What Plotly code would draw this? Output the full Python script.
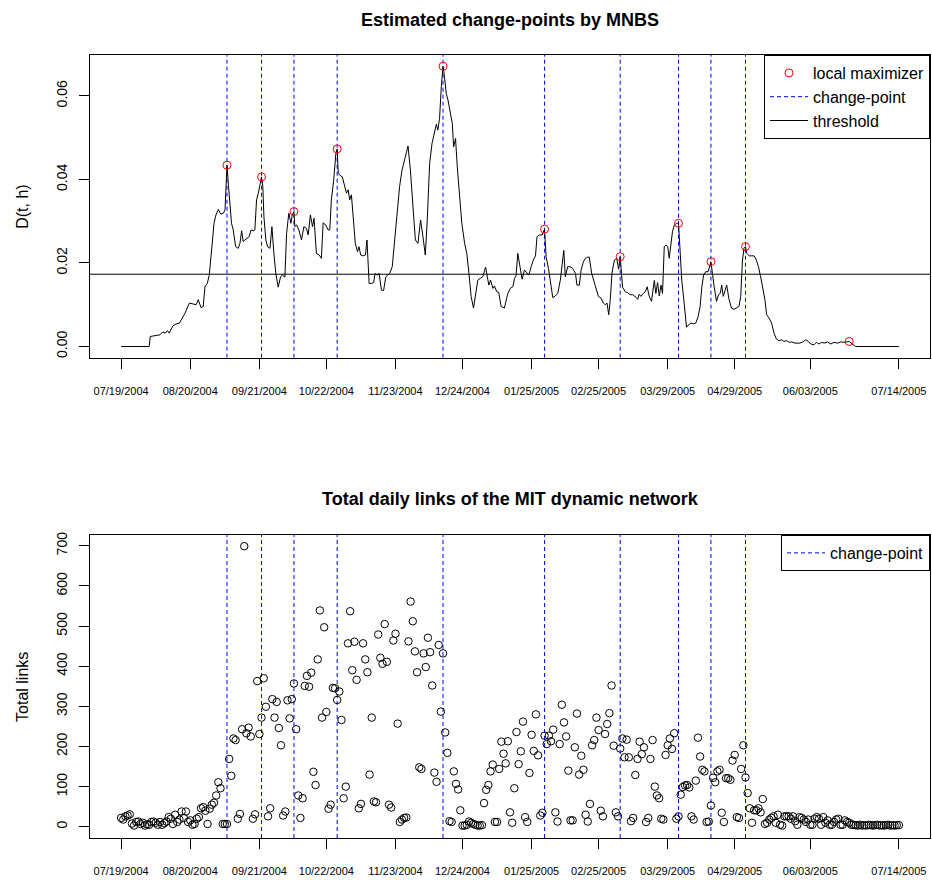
import pandas as pd
import plotly.graph_objects as go

START = pd.Timestamp("2004-07-19")

# ---- D(t, h) statistic (day offset from 07/19/2004, value) ----
d_days = [0, 13, 13.5, 18, 19.3, 20.5, 21.4, 22.3, 23.9, 25.4, 27, 28, 29.6, 31.6, 33.4, 34.7, 35.7, 37, 38,
          38.8, 39.9, 40.8, 41.9, 43, 43.9, 45, 46.1, 47.3, 48.1, 49, 49.7, 51.1, 51.9, 53, 54.2, 55, 55.8,
          56.5, 57.3, 58.1, 59.3, 60.1, 61.2, 61.9, 62.7, 63.5, 65, 65.6, 66.1, 67, 67.8, 68.9, 69.8, 70.7,
          71.6, 72.7, 73.8, 74.7, 75.8, 76.6, 77.6, 78.6, 79.2, 80, 80.4, 81.2, 82.3, 83.5, 84.6, 85.8, 86.6,
          87.6, 88.6, 89.3, 90.4, 91.7, 92.7, 93.5, 94.7, 95.8, 96.6, 97.3, 98.4, 99.4, 100, 100.5, 101.2,
          102.4, 103.5, 104.3, 105.1, 105.8, 106.6, 107.4, 108.4, 109.4, 110.1, 110.9, 112, 113.1, 113.8,
          114.8, 115.8, 116.9, 117.5, 118.5, 119.4, 120.5, 121.5, 122.5, 123.2, 124.3, 125.5, 126.6, 127.7,
          128.9, 130, 131.2, 132.8, 133.9, 135.1, 136.2, 137.4, 138.6, 139.7, 140.8, 141.7, 142.8, 143.9,
          145.1, 145.9, 146.6, 147.4, 148.2, 149, 149.5, 150.5, 151.3, 152.3, 153.3, 153.9, 154.8, 155.6,
          156.7, 157.7, 159, 160, 161, 162, 163.1, 164, 165.1, 166.2, 167.4, 168.7, 169.4, 170.2, 171,
          172.1, 172.8, 173.9, 174.8, 175.9, 177.4, 179, 180.1, 181.3, 182.1, 182.8, 183.6, 184.7, 185.6,
          186.7, 187.8, 188.7, 189.8, 190.8, 191.8, 192.5, 193.6, 194.9, 196, 196.7, 197.8, 198.7, 199.8,
          201, 202.1, 203.3, 204.1, 204.9, 205.6, 206.7, 207.8, 209, 210.3, 211, 212.1, 212.9, 214, 214.9,
          216, 216.7, 217.8, 218.7, 219.8, 220.9, 222.1, 223.2, 224.1, 224.9, 225.7, 226.4, 227.2, 228.3,
          229.4, 230.3, 231, 231.5, 232.1, 233.4, 234.4, 235.5, 236.8, 238.3, 239.1, 239.8, 240.6, 241.7,
          242.6, 243.5, 244.4, 245.5, 246.3, 246.8, 247.5, 248.3, 249.1, 249.9, 250.6, 251.4, 252.2, 253,
          253.7, 254.5, 255.2, 256.1, 257.1, 258, 258.6, 259.5, 260.6, 261.7, 262.6, 263.7, 264.9, 266,
          267.1, 268, 268.8, 269.6, 270.6, 271.7, 273, 273.5, 274.5, 275.6, 276.5, 277.3, 278, 278.7,
          279.6, 280.3, 281.4, 282.5, 283.7, 284.8, 286, 286.8, 287.6, 288.3, 289, 289.6, 290.7, 291.9,
          293, 294, 295, 296, 297.1, 298, 298.8, 299.9, 301.1, 302.2, 303.3, 304.5, 305.8, 306.8, 308.1,
          309.2, 310.4, 311.9, 313.8, 315.3, 316.9, 318.1, 319.2, 320.7, 321.8, 323, 324.3, 325.4, 326.9,
          328.4, 330, 331.5, 333.1, 334.6, 337, 338.1, 340, 360]
d_values = [0, 0, 0.0024, 0.0028, 0.0035, 0.0032, 0.0038, 0.0032, 0.0049, 0.0054, 0.0056, 0.0064, 0.0080,
            0.0104, 0.0102, 0.0100, 0.0112, 0.0093, 0.0096, 0.0143, 0.0151, 0.0171, 0.0231, 0.0295, 0.0315,
            0.0328, 0.0317, 0.0319, 0.0327, 0.0434, 0.0385, 0.0295, 0.0279, 0.0239, 0.0235, 0.0247, 0.0277,
            0.0251, 0.0255, 0.0259, 0.0263, 0.0279, 0.0277, 0.0279, 0.0351, 0.0367, 0.0406, 0.0383, 0.0311,
            0.0255, 0.0239, 0.0235, 0.0287, 0.0223, 0.0175, 0.0142, 0.0167, 0.0171, 0.0166, 0.0271, 0.0319,
            0.0295, 0.0315, 0.0323, 0.0287, 0.0291, 0.0279, 0.0255, 0.0287, 0.0283, 0.0267, 0.0315, 0.0287,
            0.0307, 0.0223, 0.0219, 0.0211, 0.0296, 0.0291, 0.0279, 0.0279, 0.0351, 0.0398, 0.0462, 0.0473,
            0.0414, 0.0410, 0.0406, 0.0383, 0.0367, 0.0375, 0.0351, 0.0363, 0.0303, 0.0247, 0.0227, 0.0239,
            0.0219, 0.0217, 0.0219, 0.0255, 0.0151, 0.0151, 0.0153, 0.0175, 0.0171, 0.0175, 0.0135, 0.0134,
            0.0167, 0.0171, 0.0175, 0.0191, 0.0255, 0.0319, 0.0383, 0.0422, 0.0446, 0.0480, 0.0422, 0.0335,
            0.0255, 0.0247, 0.0303, 0.0263, 0.0219, 0.0303, 0.0438, 0.0486, 0.0510, 0.0532, 0.0518, 0.0546,
            0.0622, 0.0671, 0.0653, 0.0606, 0.0590, 0.0562, 0.0534, 0.0478, 0.0498, 0.0430, 0.0367, 0.0295,
            0.0247, 0.0223, 0.0175, 0.0120, 0.0092, 0.0127, 0.0159, 0.0163, 0.0167, 0.0190, 0.0167, 0.0147,
            0.0159, 0.0139, 0.0145, 0.0131, 0.0129, 0.0096, 0.0092, 0.0127, 0.0139, 0.0143, 0.0163, 0.0169,
            0.0223, 0.0191, 0.0161, 0.0183, 0.0175, 0.0171, 0.0191, 0.0207, 0.0217, 0.0263, 0.0267, 0.0267,
            0.0281, 0.0215, 0.0187, 0.0159, 0.0117, 0.0121, 0.0127, 0.0159, 0.0191, 0.0230, 0.0167, 0.0191,
            0.0191, 0.0187, 0.0175, 0.0147, 0.0147, 0.0183, 0.0203, 0.0211, 0.0214, 0.0214, 0.0175, 0.0159,
            0.0139, 0.0120, 0.0116, 0.0104, 0.0100, 0.0104, 0.0076, 0.0112, 0.0175, 0.0207, 0.0211, 0.0185,
            0.0215, 0.0179, 0.0142, 0.0131, 0.0129, 0.0124, 0.0124, 0.0118, 0.0113, 0.0125, 0.0120, 0.0127,
            0.0131, 0.0143, 0.0121, 0.0108, 0.0139, 0.0158, 0.0127, 0.0153, 0.0121, 0.0147, 0.0127, 0.0239,
            0.0243, 0.0239, 0.0211, 0.0239, 0.0275, 0.0291, 0.0295, 0.0295, 0.0239, 0.0159, 0.0104, 0.0046,
            0.0052, 0.0056, 0.0054, 0.0056, 0.0072, 0.0096, 0.0143, 0.0171, 0.0179, 0.0179, 0.0203, 0.0179,
            0.0143, 0.0108, 0.0124, 0.0127, 0.0147, 0.0120, 0.0135, 0.0147, 0.0112, 0.0092, 0.0089, 0.0092,
            0.0096, 0.0120, 0.0207, 0.0235, 0.0239, 0.0223, 0.0217, 0.0217, 0.0217, 0.0207, 0.0191, 0.0167,
            0.0139, 0.0112, 0.0076, 0.0068, 0.0056, 0.0032, 0.0018, 0.0014, 0.0016, 0.0012, 0.0014, 0.0010,
            0.0011, 0.0008, 0.0008, 0.0010, 0.0016, 0.0012, 0.0006, 0.0004, 0.0010, 0.0006, 0.0010, 0.0008,
            0.0011, 0.0006, 0.0010, 0.0008, 0.0011, 0.0010, 0.0012, 0.0008, 0, 0]

maximizer_days = [49, 65, 80, 100, 149, 196, 231, 258, 273, 289, 337]
changepoint_days = [49, 65, 80, 100, 149, 196, 231, 258, 273, 289]
threshold = 0.0173

# ---- total daily links, day 0 .. 360 ----
total_links = [
    22, 18, 26, 28, 31, 8, 3, 12, 13, 7,
    10, 3, 6, 5, 12, 13, 10, 5, 12, 5,
    9, 13, 24, 20, 7, 30, 12, 18, 38, 22,
    38, 12, 16, 5, 7, 20, 24, 46, 49, 40,
    7, 45, 55, 60, 78, 111, 96, 7, 7, 7,
    169, 127, 220, 216, 20, 32, 243, 699, 233, 247,
    225, 20, 31, 363, 231, 272, 370, 299, 26, 46,
    318, 272, 311, 246, 203, 28, 38, 315, 270, 318,
    357, 243, 78, 22, 71, 351, 376, 349, 384, 137,
    104, 417, 539, 272, 497, 286, 45, 55, 346, 345,
    316, 337, 266, 71, 100, 457, 537, 390, 461, 366,
    46, 57, 457, 417, 385, 130, 272, 63, 61, 479,
    421, 406, 505, 411, 55, 48, 464, 481, 257, 12,
    18, 22, 23, 462, 561, 512, 437, 385, 148, 144,
    432, 398, 471, 435, 352, 135, 112, 453, 287, 432,
    235, 184, 14, 12, 138, 107, 93, 41, 3, 3,
    5, 13, 10, 7, 5, 3, 3, 4, 59, 92,
    104, 138, 155, 12, 12, 144, 212, 182, 158, 213,
    36, 10, 96, 236, 156, 188, 262, 24, 12, 134,
    229, 189, 280, 178, 28, 35, 227, 206, 227, 213,
    242, 36, 13, 206, 304, 260, 225, 140, 16, 16,
    198, 282, 130, 177, 142, 30, 13, 57, 203, 216,
    272, 241, 40, 26, 231, 256, 283, 352, 202, 36,
    26, 195, 220, 173, 217, 173, 14, 22, 129, 169,
    212, 181, 198, 12, 22, 169, 216, 100, 78, 71,
    20, 18, 179, 203, 220, 194, 233, 20, 26, 80,
    99, 103, 104, 98, 26, 18, 115, 222, 175, 142,
    138, 12, 13, 53, 122, 111, 138, 142, 35, 12,
    121, 121, 117, 165, 179, 24, 22, 144, 203, 123,
    84, 46, 10, 41, 41, 46, 36, 69, 7, 10,
    18, 22, 26, 10, 30, 5, 3, 26, 26, 26,
    20, 26, 14, 5, 24, 22, 18, 12, 18, 5,
    5, 20, 24, 20, 5, 24, 10, 16, 5, 5,
    12, 18, 20, 5, 5, 16, 12, 10, 5, 5,
    4, 3, 5, 3, 4, 3, 5, 4, 3, 4,
    5, 3, 4, 3, 4, 5, 3, 4, 3, 4, 4]

tick_labels = ["07/19/2004", "08/20/2004", "09/21/2004", "10/22/2004", "11/23/2004", "12/24/2004",
               "01/25/2005", "02/25/2005", "03/29/2005", "04/29/2005", "06/03/2005", "07/14/2005"]


def to_date(days):
    return [START + pd.Timedelta(days=float(d)) for d in days]


link_days = list(range(len(total_links)))
d_dates = to_date(d_days)
link_dates = to_date(link_days)
lookup = dict(zip(d_days, d_values))
max_vals = [lookup[d] for d in maximizer_days]
tickvals = list(pd.to_datetime(tick_labels, format="%m/%d/%Y"))

span = max(link_days) - min(link_days)
x_range = to_date([min(link_days) - 0.04 * span, max(link_days) + 0.04 * span])
dmax = max(d_values)
y1_range = [-0.04 * dmax, dmax * 1.04]
lmax = max(total_links)
y2_range = [-0.04 * lmax, lmax * 1.04]

FONT = "Liberation Sans, Arial, sans-serif"
BLUE = "#0000FF"
DASH = "4px,3px"

fig = go.Figure()
fig.add_trace(go.Scatter(x=d_dates, y=d_values, mode="lines", line=dict(color="black", width=1),
                         showlegend=False, xaxis="x", yaxis="y"))
fig.add_trace(go.Scatter(x=to_date(maximizer_days), y=max_vals, mode="markers",
                         marker=dict(symbol="circle-open", color="red", size=8, line=dict(width=1)),
                         name="local maximizer", legend="legend", legendrank=1, xaxis="x", yaxis="y"))
fig.add_trace(go.Scatter(x=link_dates, y=total_links, mode="markers",
                         marker=dict(symbol="circle-open", color="black", size=7.5, line=dict(width=1)),
                         showlegend=False, xaxis="x2", yaxis="y2"))

shapes = []
for i, cp in enumerate(changepoint_days):
    dt = START + pd.Timedelta(days=cp)
    shapes.append(dict(type="line", xref="x", yref="y domain", x0=dt, x1=dt, y0=0, y1=1,
                       line=dict(color=BLUE, width=1, dash=DASH), layer="below",
                       showlegend=(i == 0), name="change-point", legend="legend", legendrank=2))
    shapes.append(dict(type="line", xref="x2", yref="y2 domain", x0=dt, x1=dt, y0=0, y1=1,
                       line=dict(color=BLUE, width=1, dash=DASH), layer="below",
                       showlegend=(i == 0), name="change-point", legend="legend2"))
shapes.append(dict(type="line", xref="x domain", yref="y", x0=0, x1=1, y0=threshold, y1=threshold,
                   line=dict(color="black", width=1), layer="below",
                   showlegend=True, name="threshold", legend="legend", legendrank=3))
fig.update_layout(shapes=shapes)

top_dom = [0.6134, 1.0]
bot_dom = [0.0, 0.387]

axis_common = dict(showline=True, linecolor="black", linewidth=1, mirror=True, showgrid=False,
                   zeroline=False, ticks="outside", ticklen=10, tickcolor="black", tickwidth=1,
                   automargin=False)
x_common = dict(domain=[0, 1], range=x_range, tickvals=tickvals, ticktext=tick_labels,
                tickfont=dict(size=11), ticklabelstandoff=13, **axis_common)
y_common = dict(tickangle=-90, tickfont=dict(size=14), ticklabelstandoff=6, **axis_common)
legend_common = dict(x=1, xanchor="right", yanchor="top", bgcolor="white", bordercolor="black",
                     borderwidth=1, font=dict(size=16), itemwidth=38, tracegroupgap=0)

fig.update_layout(
    width=932, height=880,
    margin=dict(l=90, r=2, t=55, b=42, autoexpand=False),
    paper_bgcolor="white", plot_bgcolor="white",
    font=dict(family=FONT, color="black"),
    hovermode=False,
    xaxis=dict(anchor="y", **x_common),
    yaxis=dict(domain=top_dom, anchor="x", range=y1_range, tickvals=[0, 0.02, 0.04, 0.06],
               tickformat=".2f", **y_common),
    xaxis2=dict(anchor="y2", **x_common),
    yaxis2=dict(domain=bot_dom, anchor="x2", range=y2_range, tickvals=list(range(0, 701, 100)),
                **y_common),
    legend=dict(y=1, **legend_common),
    legend2=dict(y=bot_dom[1], **legend_common),
    annotations=[
        dict(text="<b>Estimated change-points by MNBS</b>", xref="paper", yref="paper", x=0.5, y=1.0453,
             xanchor="center", yanchor="middle", showarrow=False, font=dict(size=18)),
        dict(text="<b>Total daily links of the MIT dynamic network</b>", xref="paper", yref="paper",
             x=0.5, y=0.433, xanchor="center", yanchor="middle", showarrow=False, font=dict(size=18)),
        dict(text="D(t, h)", xref="paper", yref="paper", x=-0.0804, y=sum(top_dom) / 2, textangle=-90,
             xanchor="center", yanchor="middle", showarrow=False, font=dict(size=16)),
        dict(text="Total links", xref="paper", yref="paper", x=-0.0804, y=sum(bot_dom) / 2, textangle=-90,
             xanchor="center", yanchor="middle", showarrow=False, font=dict(size=16)),
    ],
)

fig.write_html("out.html", config={"displayModeBar": False},
               post_script="document.body.style.margin='0';document.body.style.overflow='hidden';")
